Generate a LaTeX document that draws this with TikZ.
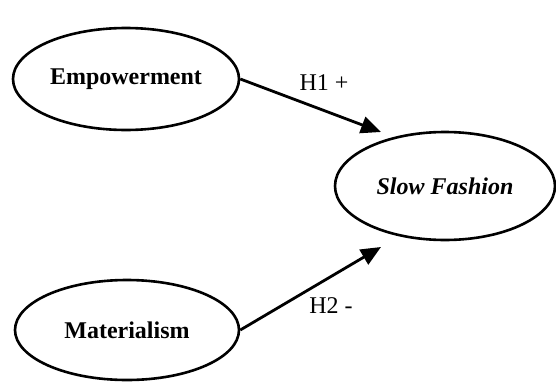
\documentclass[tikz,border=0pt]{standalone}
\usepackage{fontspec}
\setmainfont{Liberation Serif}
\usetikzlibrary{shapes.geometric,arrows.meta}
\begin{document}
\begin{tikzpicture}[x=1pt,y=1pt,
  construct/.style={draw, ellipse, line width=2.6pt, inner sep=0pt, font=\fontsize{24}{28}\selectfont\bfseries},
  path/.style={line width=2.8pt, -{Triangle[length=20pt,width=17pt]}},
  hlabel/.style={font=\fontsize{24}{28}\selectfont}]
\useasboundingbox (0,0) rectangle (556,384);
\node[construct, minimum width=226pt, minimum height=102pt] (emp) at (126,305) {Empowerment};
\node[construct, minimum width=220pt, minimum height=108pt] (sf) at (445,198) {\itshape Slow Fashion};
\node[construct, minimum width=224pt, minimum height=100pt] (mat) at (127,54) {Materialism};
\coordinate (t1) at (381,252);
\coordinate (t2) at (381,137);
\draw[path] (emp.east) -- (t1);
\draw[path] (mat.east) -- (t2);
\node[hlabel] (h1) at (324,301) {H1 +};
\node[hlabel] (h2) at (331,78) {H2 -};
\end{tikzpicture}
\end{document}
